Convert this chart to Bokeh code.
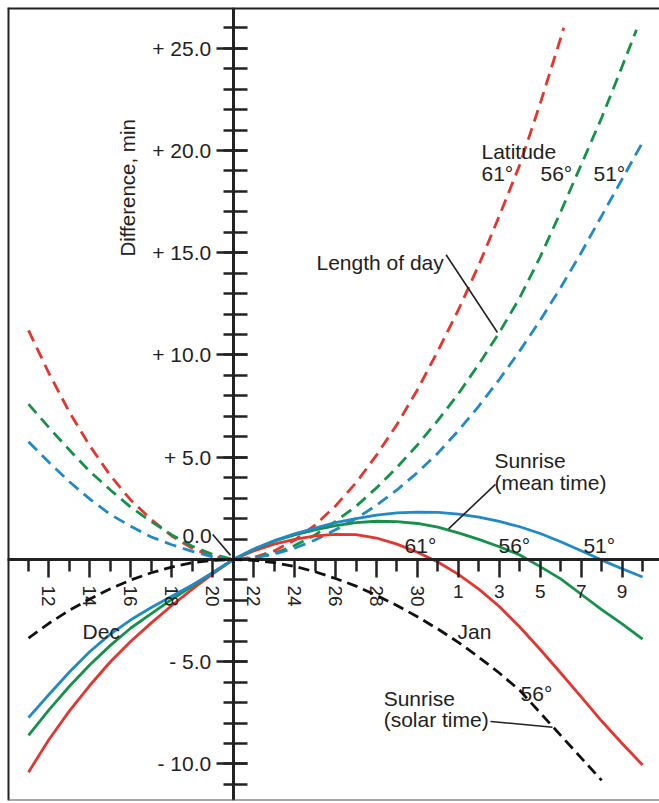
import math
from bokeh.plotting import figure
from bokeh.models import LinearAxis, FixedTicker, Range1d, Span
from bokeh.core.properties import value
from bokeh.embed import file_html
from bokeh.resources import INLINE

# ---------------- data (days: Dec 11 = 11 ... Dec 31 = 31, Jan 1 = 32 ...) -------------
lod61_days = list(range(11, 38)) + [37.15]
lod61 = [11.2, 9.1, 7.2, 5.55, 4.1, 2.9, 1.95, 1.15, 0.55, 0.15, 0.0,
         0.1, 0.42, 0.95, 1.68, 2.62, 3.75, 5.1, 6.6, 8.3, 10.2, 12.2, 14.4, 16.8, 19.3, 22.3, 25.5,
         26.0]
lod56_days = list(range(11, 41)) + [40.7]
lod56 = [7.6, 6.45, 5.35, 4.3, 3.4, 2.55, 1.85, 1.2, 0.65, 0.25, 0.0,
         0.08, 0.3, 0.68, 1.2, 1.86, 2.6, 3.5, 4.5, 5.6, 6.8, 8.1, 9.55, 11.1, 12.8, 14.8, 17.0,
         19.3, 21.6, 24.1, 25.9]
lod51_days = list(range(11, 42))
lod51 = [5.76, 4.75, 3.8, 2.95, 2.2, 1.62, 1.1, 0.72, 0.4, 0.13, 0.0,
         0.08, 0.26, 0.55, 0.95, 1.45, 2.0, 2.65, 3.4, 4.25, 5.2, 6.3, 7.5, 8.8, 10.2, 11.7, 13.3,
         15.0, 16.8, 18.6, 20.4]

mean_days = list(range(11, 42))
mean61 = [-10.4, -8.8, -7.4, -6.15, -5.0, -4.0, -3.1, -2.25, -1.45, -0.7, 0.0,
          0.42, 0.75, 0.98, 1.15, 1.23, 1.22, 1.05, 0.75, 0.35, -0.12, -0.73, -1.45, -2.3, -3.3,
          -4.4, -5.55, -6.72, -7.9, -9.0, -10.05]
mean56 = [-8.6, -7.35, -6.2, -5.15, -4.2, -3.35, -2.65, -1.95, -1.3, -0.65, 0.0,
          0.5, 0.9, 1.2, 1.45, 1.65, 1.8, 1.87, 1.85, 1.76, 1.58, 1.3, 0.98, 0.62, 0.22,
          -0.35, -0.95, -1.7, -2.45, -3.15, -3.9]
mean51 = [-7.73, -6.6, -5.5, -4.5, -3.65, -2.95, -2.35, -1.8, -1.25, -0.65, 0.0,
          0.5, 0.92, 1.25, 1.53, 1.8, 2.0, 2.17, 2.28, 2.32, 2.3, 2.22, 2.07, 1.86, 1.6,
          1.27, 0.87, 0.43, -0.03, -0.45, -0.86]

solar_days = list(range(11, 40))
solar56 = [-3.84, -3.12, -2.48, -1.93, -1.43, -1.0, -0.65, -0.37, -0.16, -0.04, 0.0,
           -0.04, -0.15, -0.34, -0.6, -0.93, -1.3, -1.75, -2.25, -2.8, -3.4, -4.05, -4.78,
           -5.55, -6.4, -7.5, -8.6, -9.7, -10.8]

y_major = [-10, -5, 5, 10, 15, 20, 25]
y_labels = ["- 10.0", "- 5.0", "+ 5.0", "+ 10.0", "+ 15.0", "+ 20.0", "+ 25.0"]
y_minor = list(range(-11, 27))
dec_ticks = [12, 14, 16, 18, 20, 22, 24, 26, 28, 30]
dec_labels = ["12", "14", "16", "18", "20", "22", "24", "26", "28", "30"]
jan_ticks = [32, 34, 36, 38, 40]
jan_labels = ["1", "3", "5", "7", "9"]
x_minor = list(range(11, 42, 2))
solstice_day = 21

# annotations (data coordinates)
ann_text = ["Latitude", "61°", "56°", "51°", "Length of day", "Sunrise", "(mean time)",
            "61°", "56°", "51°", "Sunrise", "(solar time)", "56°", "Dec", "Jan", "0.0"]
ann_x = [33.13, 33.13, 36.01, 38.60, 25.07, 33.76, 33.76,
         29.37, 33.96, 38.11, 28.35, 28.35, 35.04, 13.64, 31.96, 18.52]
ann_y = [19.95, 18.88, 18.88, 18.88, 14.52, 4.84, 3.77,
         0.68, 0.68, 0.68, -6.80, -7.82, -6.55, -3.52, -3.52, 1.17]
lead_x0 = [31.40, 33.81, 33.57, 20.00]
lead_y0 = [14.90, 3.67, -7.92, 1.22]
lead_x1 = [33.91, 31.52, 36.60, 20.87]
lead_y1 = [11.10, 1.50, -8.20, 0.20]

# ---------------- styling ----------------
RED = "#e4352f"
GREEN = "#16914a"
BLUE = "#2089c8"
INK = "#222222"
FONT = "Liberation Sans"

p = figure(width=659, height=803, output_backend="svg", toolbar_location=None,
           x_range=Range1d(9.974, 41.826), y_range=Range1d(-11.785, 26.99),
           x_axis_location=None, y_axis_location=None,
           min_border=0, min_border_left=7, min_border_right=0,
           min_border_top=7, min_border_bottom=3)
p.xgrid.visible = False
p.ygrid.visible = False
p.outline_line_color = None
p.background_fill_color = "white"
p.border_fill_color = "white"

# frame (left, top, bottom)
p.add_layout(Span(location=p.x_range.start, dimension="height", line_color=INK, line_width=4))
p.add_layout(Span(location=p.y_range.end, dimension="width", line_color=INK, line_width=4))
p.add_layout(Span(location=p.y_range.start, dimension="width", line_color="#555555", line_width=2))

# curves
dash_c = "12 7"
p.line(lod61_days, lod61, line_color=RED, line_width=2.8, line_dash=dash_c)
p.line(lod56_days, lod56, line_color=GREEN, line_width=2.8, line_dash=dash_c)
p.line(lod51_days, lod51, line_color=BLUE, line_width=2.8, line_dash=dash_c)
p.line(mean_days, mean61, line_color=RED, line_width=2.8)
p.line(mean_days, mean56, line_color=GREEN, line_width=2.8)
p.line(mean_days, mean51, line_color=BLUE, line_width=2.8)
p.line(solar_days, solar56, line_color="#111111", line_width=2.8, line_dash="11 6",
       level="overlay")

# leader lines
p.segment(lead_x0, lead_y0, lead_x1, lead_y1, line_color=INK, line_width=1.6)

# annotation text
p.text(ann_x, ann_y, text=ann_text, text_font=value(FONT), text_font_size="21px",
       text_color=INK, text_baseline="alphabetic", text_align="left")
p.text([15.86], [18.17], text=["Difference, min"], angle=math.pi / 2, text_font=value(FONT),
       text_font_size="20.5px", text_color=INK, text_baseline="middle", text_align="center")

# axes through the origin
tick_style = dict(axis_line_color=INK, axis_line_width=3,
                  major_tick_line_color=INK, major_tick_line_width=2.5,
                  minor_tick_line_color=INK, minor_tick_line_width=2.5,
                  major_label_text_font=FONT, major_label_text_color=INK)
label_bg = {}
if "major_label_background_fill_color" in LinearAxis.properties():
    label_bg = dict(major_label_background_fill_color="white")

yax = LinearAxis(fixed_location=solstice_day,
                 ticker=FixedTicker(ticks=y_major, minor_ticks=y_minor),
                 major_label_overrides=dict(zip(y_major, y_labels)),
                 major_tick_in=14, major_tick_out=17, minor_tick_in=14, minor_tick_out=10,
                 major_label_standoff=5, major_label_text_font_size="21px", **tick_style)
p.add_layout(yax, "left")

xdec = LinearAxis(fixed_location=0,
                  ticker=FixedTicker(ticks=dec_ticks, minor_ticks=x_minor),
                  major_label_overrides=dict(zip(dec_ticks, dec_labels)),
                  major_label_orientation=-math.pi / 2,
                  major_tick_in=0, major_tick_out=18, minor_tick_in=0, minor_tick_out=12,
                  major_label_standoff=8, major_label_text_font_size="19px",
                  **tick_style, **label_bg)
p.add_layout(xdec, "below")

xjan = LinearAxis(fixed_location=0,
                  ticker=FixedTicker(ticks=jan_ticks, minor_ticks=[]),
                  major_label_overrides=dict(zip(jan_ticks, jan_labels)),
                  major_tick_in=0, major_tick_out=18, minor_tick_in=0, minor_tick_out=0,
                  major_label_standoff=8, major_label_text_font_size="19px",
                  **tick_style, **label_bg)
p.add_layout(xjan, "below")

open("out.html", "w").write(file_html(p, INLINE))
